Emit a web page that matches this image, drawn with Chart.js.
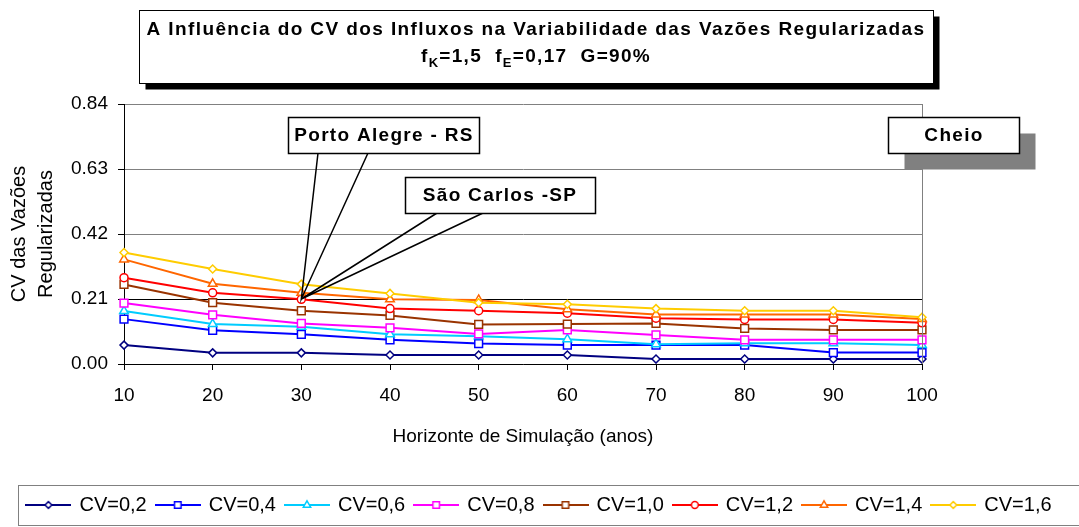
<!DOCTYPE html>
<html>
<head>
<meta charset="utf-8">
<script src="https://cdn.jsdelivr.net/npm/chart.js@4.4.0/dist/chart.umd.min.js"></script>
<style>
  body { margin: 0; background: #fff; }
  #wrap { width: 1079px; height: 527px; position: relative; }
</style>
</head>
<body>
<div id="wrap"><canvas id="myChart"></canvas></div>
<script>
// horizonte de simulação (anos)
const horizons = ["10", "20", "30", "40", "50", "60", "70", "80", "90", "100"];
const yTicks = [0, 0.21, 0.42, 0.63, 0.84];

// CV das vazões regularizadas
const cv02 = [0.061, 0.036, 0.036, 0.029, 0.029, 0.029, 0.016, 0.016, 0.016, 0.016];
const cv04 = [0.145, 0.109, 0.096, 0.078, 0.066, 0.061, 0.061, 0.061, 0.037, 0.037];
const cv06 = [0.171, 0.129, 0.120, 0.096, 0.090, 0.080, 0.064, 0.067, 0.067, 0.061];
const cv08 = [0.197, 0.159, 0.131, 0.117, 0.097, 0.110, 0.094, 0.078, 0.078, 0.078];
const cv10 = [0.257, 0.198, 0.172, 0.157, 0.128, 0.129, 0.131, 0.115, 0.110, 0.110];
const cv12 = [0.279, 0.230, 0.209, 0.179, 0.172, 0.164, 0.148, 0.144, 0.144, 0.133];
const cv14 = [0.338, 0.259, 0.230, 0.209, 0.207, 0.177, 0.160, 0.160, 0.160, 0.145];
const cv16 = [0.360, 0.307, 0.258, 0.228, 0.198, 0.193, 0.179, 0.172, 0.172, 0.151];

const seriesNames = ["CV=0,2", "CV=0,4", "CV=0,6", "CV=0,8", "CV=1,0", "CV=1,2", "CV=1,4", "CV=1,6"];
const seriesValues = [cv02, cv04, cv06, cv08, cv10, cv12, cv14, cv16];

const colors = ["#000080", "#0000FF", "#00CCFF", "#FF00FF", "#993300", "#FF0000", "#FF6600", "#FFCC00"];
const markers = ["rectRot", "rect", "triangle", "rect", "rect", "circle", "triangle", "rectRot"];
const markerRadius = { rectRot: 4, rect: 5.5, triangle: 5, circle: 4 };

const FONT = "'Liberation Sans', Arial, sans-serif";

function legendImage(color, marker) {
  const c = document.createElement("canvas");
  c.width = 46;
  c.height = 14;
  const g = c.getContext("2d");
  g.strokeStyle = color;
  g.lineWidth = 2;
  g.beginPath();
  g.moveTo(0, 7);
  g.lineTo(46, 7);
  g.stroke();
  g.fillStyle = "#fff";
  g.lineWidth = 1.5;
  Chart.helpers.drawPoint(g, { pointStyle: marker, radius: markerRadius[marker] * 0.85, borderWidth: 1.5, rotation: 0 }, 23, 7);
  return c;
}
const legendImages = colors.map((c, i) => legendImage(c, markers[i]));

const datasets = seriesValues.map((vals, i) => ({
  label: seriesNames[i],
  data: vals,
  borderColor: colors[i],
  backgroundColor: colors[i],
  borderWidth: 2,
  pointStyle: markers[i],
  pointRadius: markerRadius[markers[i]],
  pointBorderWidth: 1.5,
  pointBackgroundColor: "#fff",
  pointBorderColor: colors[i],
  tension: 0,
  order: seriesValues.length - i
}));

function box(ctx, x, y, w, h, shadow, shadowColor, lw) {
  if (shadow) {
    ctx.fillStyle = shadowColor;
    ctx.fillRect(x + shadow, y + shadow, w, h);
  }
  ctx.fillStyle = "#fff";
  ctx.fillRect(x, y, w, h);
  ctx.strokeStyle = "#000";
  ctx.lineWidth = lw;
  ctx.strokeRect(x, y, w, h);
}

function label(ctx, text, cx, cy, spacing) {
  ctx.fillStyle = "#000";
  ctx.font = "bold 19px " + FONT;
  ctx.letterSpacing = spacing + "px";
  ctx.textAlign = "center";
  ctx.textBaseline = "middle";
  ctx.fillText(text, cx, cy);
}

const decorations = {
  id: "decorations",
  afterDraw(chart) {
    const ctx = chart.ctx;
    const area = chart.chartArea;
    const xs = chart.scales.x;
    const ys = chart.scales.y;
    ctx.save();

    // borda da área do gráfico (direita)
    ctx.strokeStyle = "#808080";
    ctx.lineWidth = 1;
    ctx.beginPath();
    ctx.moveTo(Math.round(area.right) + 0.5, area.top);
    ctx.lineTo(Math.round(area.right) + 0.5, area.bottom);
    ctx.stroke();

    // moldura da legenda
    const lg = chart.legend;
    ctx.strokeRect(18.5, Math.round(lg.top) + 0.5, 1100, lg.height);

    // título
    box(ctx, 139.5, 10.5, 794, 73, 6, "#000", 1);
    label(ctx, "A Influência do CV dos Influxos na Variabilidade das Vazões Regularizadas", 536, 30, 1.4);
    const parts = [["f", 0], ["K", 1], ["=1,5  f", 0], ["E", 1], ["=0,17  G=90%", 0]];
    ctx.textAlign = "left";
    ctx.letterSpacing = "1.3px";
    let total = 0;
    parts.forEach(p => {
      ctx.font = (p[1] ? "bold 13px " : "bold 19px ") + FONT;
      total += ctx.measureText(p[0]).width;
    });
    let px = 536 - total / 2;
    parts.forEach(p => {
      ctx.font = (p[1] ? "bold 13px " : "bold 19px ") + FONT;
      ctx.fillText(p[0], px, p[1] ? 63 : 57);
      px += ctx.measureText(p[0]).width;
    });

    // chamadas apontando para o ponto (30 anos)
    const tipX = xs.getPixelForValue(2);
    const tipY = ys.getPixelForValue(0.21);
    ctx.strokeStyle = "#000";
    ctx.lineWidth = 1.5;
    const pointers = [[318, 153, 368, 153], [437, 213, 483, 213]];
    pointers.forEach(p => {
      ctx.beginPath();
      ctx.moveTo(p[0], p[1]);
      ctx.lineTo(tipX, tipY);
      ctx.lineTo(p[2], p[3]);
      ctx.stroke();
    });
    box(ctx, 288.5, 117.5, 191, 36, 0, null, 1.5);
    label(ctx, "Porto Alegre - RS", 384, 136, 1.3);
    box(ctx, 405.5, 177.5, 190, 36, 0, null, 1.5);
    label(ctx, "São Carlos -SP", 500, 196, 1.3);

    // caixa "Cheio"
    box(ctx, 888.5, 117.5, 131, 36, 16, "#808080", 1.5);
    label(ctx, "Cheio", 954, 136, 1.3);

    ctx.restore();
  }
};

const chart = new Chart(document.getElementById("myChart"), {
  type: "line",
  data: { labels: horizons, datasets: datasets },
  options: {
    responsive: true,
    maintainAspectRatio: false,
    animation: false,
    layout: { padding: { left: 0, right: 0, top: 104, bottom: 2 } },
    plugins: {
      title: { display: false },
      tooltip: { enabled: false },
      legend: {
        position: "bottom",
        labels: {
          usePointStyle: true,
          pointStyleWidth: 42,
          padding: 10,
          color: "#000",
          font: { family: FONT, size: 20 },
          sort: (a, b) => a.datasetIndex - b.datasetIndex,
          generateLabels(chart) {
            const items = Chart.defaults.plugins.legend.labels.generateLabels(chart);
            items.forEach(it => { it.pointStyle = legendImages[it.datasetIndex]; });
            return items;
          }
        }
      }
    },
    scales: {
      x: {
        type: "category",
        offset: false,
        afterFit(scale) { scale.height = 121; },
        grid: { drawOnChartArea: false, tickLength: 6, color: "#000", tickColor: "#000" },
        border: { color: "#000", width: 1 },
        ticks: { color: "#000", padding: 14, font: { family: FONT, size: 19 }, maxRotation: 0 },
        title: {
          display: true,
          text: "Horizonte de Simulação (anos)",
          color: "#000",
          font: { family: FONT, size: 19 },
          padding: { top: 0, bottom: 37 }
        }
      },
      y: {
        min: 0,
        max: 0.84,
        afterFit(scale) { scale.width = 124; },
        afterBuildTicks(scale) { scale.ticks = yTicks.map(v => ({ value: v })); },
        grid: {
          tickLength: 6,
          tickColor: "#000",
          color: c => (c.tick && Math.abs(c.tick.value - 0.21) < 1e-6 ? "#000" : "#808080")
        },
        border: { color: "#000", width: 1 },
        ticks: {
          color: "#000",
          padding: 10,
          font: { family: FONT, size: 19 },
          callback: v => Number(v).toFixed(2)
        },
        title: {
          display: true,
          text: ["CV das Vazões", "Regularizadas"],
          color: "#000",
          font: { family: FONT, size: 20, lineHeight: 1.35 },
          padding: { top: 6, bottom: 0 }
        }
      },
      // espaço vazio à direita da área do gráfico
      yRight: {
        position: "right",
        afterFit(scale) { scale.width = 157; },
        grid: { display: false },
        border: { display: false },
        ticks: { display: false }
      }
    }
  },
  plugins: [decorations]
});
</script>
</body>
</html>
